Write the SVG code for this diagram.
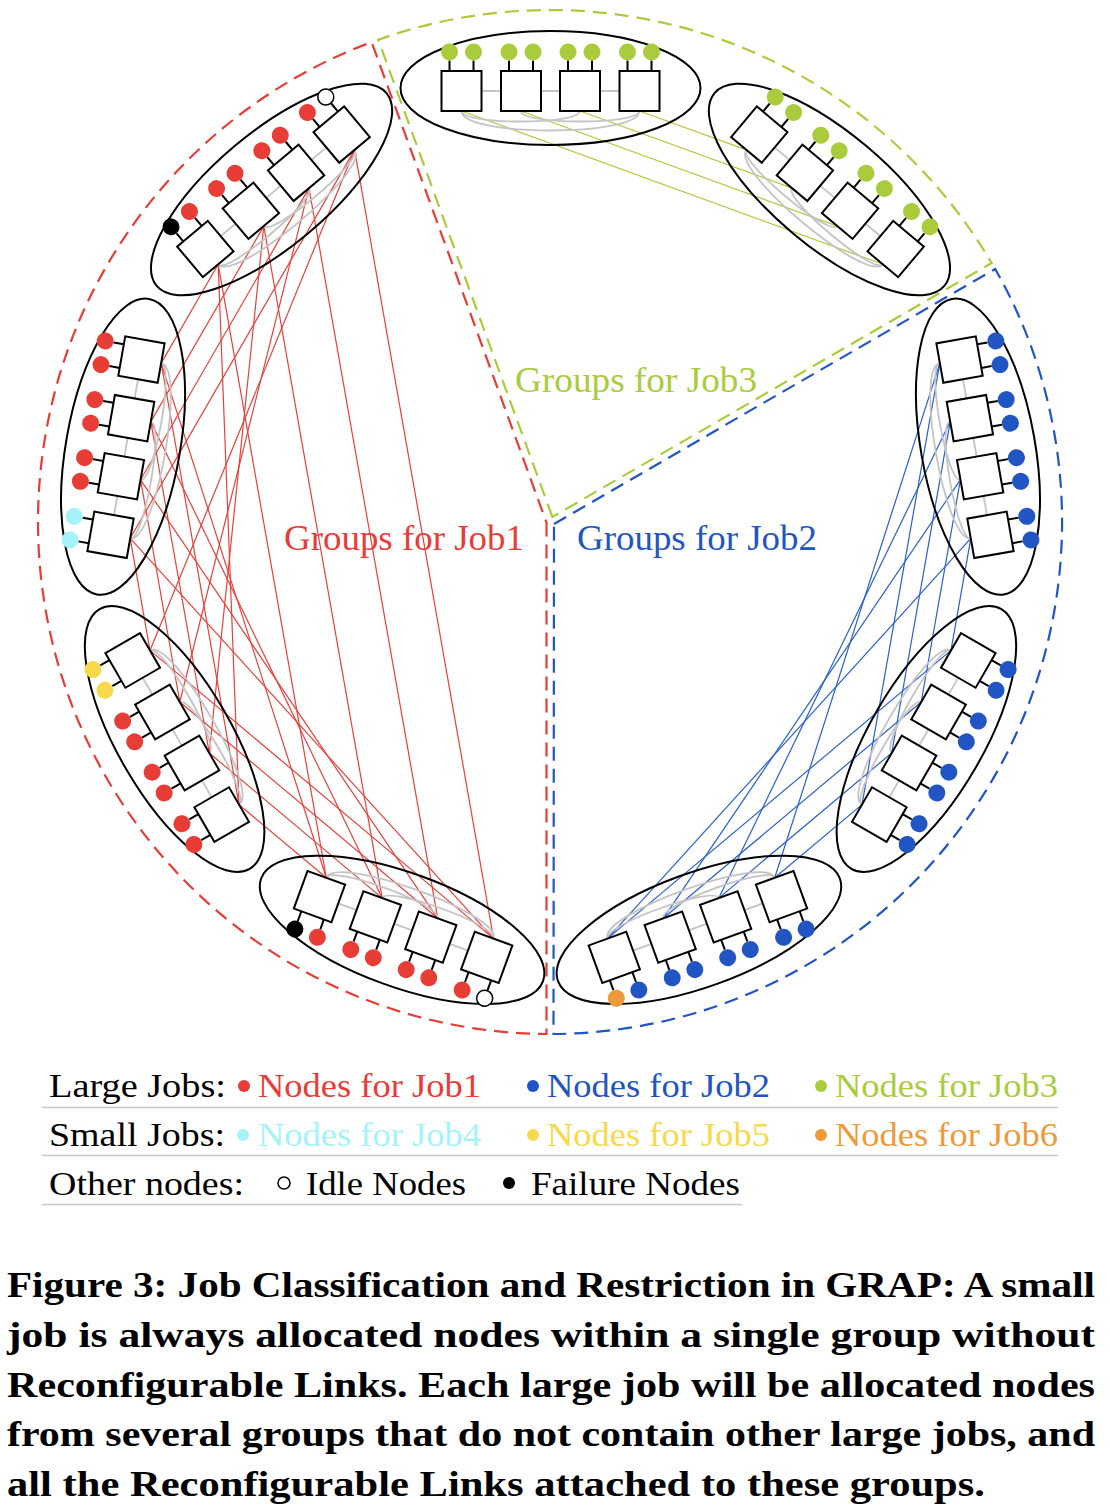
<svg xmlns="http://www.w3.org/2000/svg" width="1110" height="1512" viewBox="0 0 1110 1512">
<style>
.ell{fill:none;stroke:#000;stroke-width:2}
.intra{fill:none;stroke:#c4c4c4;stroke-width:1.8}
.sq{fill:#fff;stroke:#000;stroke-width:2}
.stem{stroke:#000;stroke-width:2;fill:none}
.nr{fill:#e83c37}.nb{fill:#2155c4}.ng{fill:#aacc3c}.nc{fill:#a5f3f9}.ny{fill:#f7d94c}.no{fill:#ef9a3a}.nk{fill:#000}
.ni{fill:#fff;stroke:#000;stroke-width:1.5}
.lr{stroke:#e8403a;stroke-width:1.2}
.lb{stroke:#2a5fd0;stroke-width:1.2}
.lg{stroke:#a9cc3c;stroke-width:1.2}
.sec{fill:none;stroke-width:2.2;stroke-dasharray:14 8}
.t{font-family:"Liberation Serif","Times New Roman",serif}
.lbl{font-size:35px}
.leg{font-size:34px;white-space:pre}
.cap{font-size:35px;font-weight:bold}
.rule{stroke:#c4c4c4;stroke-width:1.5}
</style>
<defs>
<g id="sw">
<path class="stem" d="M-12 -30.5V-20M12 -30.5V-20"/>
<rect class="sq" x="-20" y="-20" width="40" height="40"/>
</g>
<g id="base">
<ellipse class="ell" cx="0" cy="-3" rx="150" ry="57"/>
<path class="intra" d="M-89 0H89M-89 20C-89 34 29.5 34 29.5 20M-29.5 20C-29.5 34 89 34 89 20M-89 20C-89 46 89 46 89 20"/>
<use href="#sw" x="-89"/><use href="#sw" x="-29.5"/><use href="#sw" x="29.5"/><use href="#sw" x="89"/>
</g>
</defs>

<g id="sectors">
<path class="sec" stroke="#e83c37" d="M546.5 522.6L546.5 1034A512 512 0 0 1 371.6 42.1Z"/>
<path class="sec" stroke="#aacc3c" d="M552.4 516.9L378.2 39.7A512 512 0 0 1 991.6 263Z"/>
<path class="sec" stroke="#2155c4" d="M554 524L995.2 269A512 512 0 0 1 553.5 1034Z"/>
</g>

<g id="connectors">
<g class="lg">
<line x1="461.5" y1="111" x2="882.8" y2="264.3"/>
<line x1="521" y1="111" x2="837.2" y2="226.1"/>
<line x1="580" y1="111" x2="792" y2="188.1"/>
<line x1="639.5" y1="111" x2="746.4" y2="149.9"/>
</g>
<g class="lr">
<line x1="218.2" y1="264.3" x2="161.2" y2="363.1"/>
<line x1="263.8" y1="226.1" x2="150.8" y2="421.6"/>
<line x1="309" y1="188.1" x2="140.6" y2="479.8"/>
<line x1="354.6" y1="149.9" x2="130.2" y2="538.3"/>
<line x1="130.2" y1="538.3" x2="150" y2="650.4"/>
<line x1="140.6" y1="479.8" x2="179.8" y2="702"/>
<line x1="150.8" y1="421.6" x2="209.3" y2="753"/>
<line x1="161.2" y1="363.1" x2="239" y2="804.6"/>
<line x1="239" y1="804.6" x2="326.3" y2="877.8"/>
<line x1="209.3" y1="753" x2="382.2" y2="898.1"/>
<line x1="179.8" y1="702" x2="437.7" y2="918.3"/>
<line x1="150" y1="650.4" x2="493.6" y2="938.6"/>
<line x1="218.2" y1="264.3" x2="239" y2="804.6"/>
<line x1="263.8" y1="226.1" x2="209.3" y2="753"/>
<line x1="309" y1="188.1" x2="179.8" y2="702"/>
<line x1="354.6" y1="149.9" x2="150" y2="650.4"/>
<line x1="130.2" y1="538.3" x2="493.6" y2="938.6"/>
<line x1="140.6" y1="479.8" x2="437.7" y2="918.3"/>
<line x1="150.8" y1="421.6" x2="382.2" y2="898.1"/>
<line x1="161.2" y1="363.1" x2="326.3" y2="877.8"/>
<line x1="218.2" y1="264.3" x2="326.3" y2="877.8"/>
<line x1="263.8" y1="226.1" x2="382.2" y2="898.1"/>
<line x1="309" y1="188.1" x2="437.7" y2="918.3"/>
<line x1="354.6" y1="149.9" x2="493.6" y2="938.6"/>
</g>
<g class="lb">
<line x1="939.8" y1="363.1" x2="862" y2="804.6"/>
<line x1="950.2" y1="421.6" x2="891.7" y2="753"/>
<line x1="960.4" y1="479.8" x2="921.2" y2="702"/>
<line x1="970.8" y1="538.3" x2="951" y2="650.4"/>
<line x1="951" y1="650.4" x2="607.4" y2="938.6"/>
<line x1="921.2" y1="702" x2="663.3" y2="918.3"/>
<line x1="891.7" y1="753" x2="718.8" y2="898.1"/>
<line x1="862" y1="804.6" x2="774.7" y2="877.8"/>
<line x1="939.8" y1="363.1" x2="774.7" y2="877.8"/>
<line x1="950.2" y1="421.6" x2="718.8" y2="898.1"/>
<line x1="960.4" y1="479.8" x2="663.3" y2="918.3"/>
<line x1="970.8" y1="538.3" x2="607.4" y2="938.6"/>
</g>
</g>

<g id="group1" transform="translate(273.5 191.8) rotate(-40)">
<use href="#base"/>
<circle class="nk" cx="-101" cy="-39" r="8.5"/><circle class="nr" cx="-77" cy="-39" r="8.5"/>
<circle class="nr" cx="-41.5" cy="-39" r="8.5"/><circle class="nr" cx="-17.5" cy="-39" r="8.5"/>
<circle class="nr" cx="17.5" cy="-39" r="8.5"/><circle class="nr" cx="41.5" cy="-39" r="8.5"/>
<circle class="nr" cx="77" cy="-39" r="8.5"/><circle class="ni" cx="101" cy="-39" r="8"/>
</g>
<g id="group2" transform="translate(550.5 91) rotate(0)">
<use href="#base"/>
<circle class="ng" cx="-101" cy="-39" r="8.5"/><circle class="ng" cx="-77" cy="-39" r="8.5"/>
<circle class="ng" cx="-41.5" cy="-39" r="8.5"/><circle class="ng" cx="-17.5" cy="-39" r="8.5"/>
<circle class="ng" cx="17.5" cy="-39" r="8.5"/><circle class="ng" cx="41.5" cy="-39" r="8.5"/>
<circle class="ng" cx="77" cy="-39" r="8.5"/><circle class="ng" cx="101" cy="-39" r="8.5"/>
</g>
<g id="group3" transform="translate(827.5 191.8) rotate(40)">
<use href="#base"/>
<circle class="ng" cx="-101" cy="-39" r="8.5"/><circle class="ng" cx="-77" cy="-39" r="8.5"/>
<circle class="ng" cx="-41.5" cy="-39" r="8.5"/><circle class="ng" cx="-17.5" cy="-39" r="8.5"/>
<circle class="ng" cx="17.5" cy="-39" r="8.5"/><circle class="ng" cx="41.5" cy="-39" r="8.5"/>
<circle class="ng" cx="77" cy="-39" r="8.5"/><circle class="ng" cx="101" cy="-39" r="8.5"/>
</g>
<g id="group9" transform="translate(975 447.2) rotate(80)">
<use href="#base"/>
<circle class="nb" cx="-101" cy="-39" r="8.5"/><circle class="nb" cx="-77" cy="-39" r="8.5"/>
<circle class="nb" cx="-41.5" cy="-39" r="8.5"/><circle class="nb" cx="-17.5" cy="-39" r="8.5"/>
<circle class="nb" cx="17.5" cy="-39" r="8.5"/><circle class="nb" cx="41.5" cy="-39" r="8.5"/>
<circle class="nb" cx="77" cy="-39" r="8.5"/><circle class="nb" cx="101" cy="-39" r="8.5"/>
</g>
<g id="group8" transform="translate(923.8 737.5) rotate(120)">
<use href="#base"/>
<circle class="nb" cx="-101" cy="-39" r="8.5"/><circle class="nb" cx="-77" cy="-39" r="8.5"/>
<circle class="nb" cx="-41.5" cy="-39" r="8.5"/><circle class="nb" cx="-17.5" cy="-39" r="8.5"/>
<circle class="nb" cx="17.5" cy="-39" r="8.5"/><circle class="nb" cx="41.5" cy="-39" r="8.5"/>
<circle class="nb" cx="77" cy="-39" r="8.5"/><circle class="nb" cx="101" cy="-39" r="8.5"/>
</g>
<g id="group7" transform="translate(697.9 927) rotate(160)">
<use href="#base"/>
<circle class="nb" cx="-101" cy="-39" r="8.5"/><circle class="nb" cx="-77" cy="-39" r="8.5"/>
<circle class="nb" cx="-41.5" cy="-39" r="8.5"/><circle class="nb" cx="-17.5" cy="-39" r="8.5"/>
<circle class="nb" cx="17.5" cy="-39" r="8.5"/><circle class="nb" cx="41.5" cy="-39" r="8.5"/>
<circle class="nb" cx="77" cy="-39" r="8.5"/><circle class="no" cx="101" cy="-39" r="8.5"/>
</g>
<g id="group6" transform="translate(403.1 927) rotate(200)">
<use href="#base"/>
<circle class="ni" cx="-101" cy="-39" r="8"/><circle class="nr" cx="-77" cy="-39" r="8.5"/>
<circle class="nr" cx="-41.5" cy="-39" r="8.5"/><circle class="nr" cx="-17.5" cy="-39" r="8.5"/>
<circle class="nr" cx="17.5" cy="-39" r="8.5"/><circle class="nr" cx="41.5" cy="-39" r="8.5"/>
<circle class="nr" cx="77" cy="-39" r="8.5"/><circle class="nk" cx="101" cy="-39" r="8.5"/>
</g>
<g id="group5" transform="translate(177.2 737.5) rotate(240)">
<use href="#base"/>
<circle class="nr" cx="-101" cy="-39" r="8.5"/><circle class="nr" cx="-77" cy="-39" r="8.5"/>
<circle class="nr" cx="-41.5" cy="-39" r="8.5"/><circle class="nr" cx="-17.5" cy="-39" r="8.5"/>
<circle class="nr" cx="17.5" cy="-39" r="8.5"/><circle class="nr" cx="41.5" cy="-39" r="8.5"/>
<circle class="ny" cx="77" cy="-39" r="8.5"/><circle class="ny" cx="101" cy="-39" r="8.5"/>
</g>
<g id="group4" transform="translate(126 447.2) rotate(280)">
<use href="#base"/>
<circle class="nc" cx="-101" cy="-39" r="8.5"/><circle class="nc" cx="-77" cy="-39" r="8.5"/>
<circle class="nr" cx="-41.5" cy="-39" r="8.5"/><circle class="nr" cx="-17.5" cy="-39" r="8.5"/>
<circle class="nr" cx="17.5" cy="-39" r="8.5"/><circle class="nr" cx="41.5" cy="-39" r="8.5"/>
<circle class="nr" cx="77" cy="-39" r="8.5"/><circle class="nr" cx="101" cy="-39" r="8.5"/>
</g>

<g id="labels" class="t lbl">
<text x="515" y="392" fill="#aacc3c" textLength="242" lengthAdjust="spacingAndGlyphs">Groups for Job3</text>
<text x="284" y="550" fill="#e83c37" textLength="240" lengthAdjust="spacingAndGlyphs">Groups for Job1</text>
<text x="577" y="550" fill="#2155c4" textLength="240" lengthAdjust="spacingAndGlyphs">Groups for Job2</text>
</g>

<g id="legend" class="t leg">
<text x="49" y="1097" textLength="177" lengthAdjust="spacingAndGlyphs">Large  Jobs:</text>
<circle class="nr" cx="244" cy="1086" r="6"/>
<text x="258" y="1097" fill="#e83c37" textLength="223" lengthAdjust="spacingAndGlyphs">Nodes for Job1</text>
<circle class="nb" cx="533" cy="1086" r="6"/>
<text x="547" y="1097" fill="#2155c4" textLength="223" lengthAdjust="spacingAndGlyphs">Nodes for Job2</text>
<circle class="ng" cx="821" cy="1086" r="6"/>
<text x="835" y="1097" fill="#aacc3c" textLength="223" lengthAdjust="spacingAndGlyphs">Nodes for Job3</text>
<line class="rule" x1="42" y1="1107.5" x2="1058" y2="1107.5"/>
<text x="49" y="1146" textLength="176" lengthAdjust="spacingAndGlyphs">Small  Jobs:</text>
<circle class="nc" cx="243" cy="1135" r="6"/>
<text x="258" y="1146" fill="#a5f3f9" textLength="223" lengthAdjust="spacingAndGlyphs">Nodes for Job4</text>
<circle class="ny" cx="533" cy="1135" r="6"/>
<text x="547" y="1146" fill="#f7d94c" textLength="223" lengthAdjust="spacingAndGlyphs">Nodes for Job5</text>
<circle class="no" cx="821" cy="1135" r="6"/>
<text x="835" y="1146" fill="#ef9a3a" textLength="223" lengthAdjust="spacingAndGlyphs">Nodes for Job6</text>
<line class="rule" x1="42" y1="1155.5" x2="1058" y2="1155.5"/>
<text x="49" y="1195" textLength="195" lengthAdjust="spacingAndGlyphs">Other nodes:</text>
<circle class="ni" cx="284" cy="1183" r="6"/>
<text x="306" y="1195" textLength="160" lengthAdjust="spacingAndGlyphs">Idle Nodes</text>
<circle class="nk" cx="509" cy="1183" r="6"/>
<text x="531" y="1195" textLength="209" lengthAdjust="spacingAndGlyphs">Failure Nodes</text>
<line class="rule" x1="42" y1="1204.5" x2="742" y2="1204.5"/>
</g>

<g id="caption" class="t cap">
<text x="7" y="1297" textLength="1088" lengthAdjust="spacingAndGlyphs">Figure 3: Job Classification and Restriction in GRAP: A small</text>
<text x="7" y="1347" textLength="1088" lengthAdjust="spacingAndGlyphs">job is always allocated nodes within a single group without</text>
<text x="7" y="1397" textLength="1088" lengthAdjust="spacingAndGlyphs">Reconfigurable Links. Each large job will be allocated nodes</text>
<text x="7" y="1446" textLength="1088" lengthAdjust="spacingAndGlyphs">from several groups that do not contain other large jobs, and</text>
<text x="7" y="1496" textLength="978" lengthAdjust="spacingAndGlyphs">all the Reconfigurable Links attached to these groups.</text>
</g>
</svg>
